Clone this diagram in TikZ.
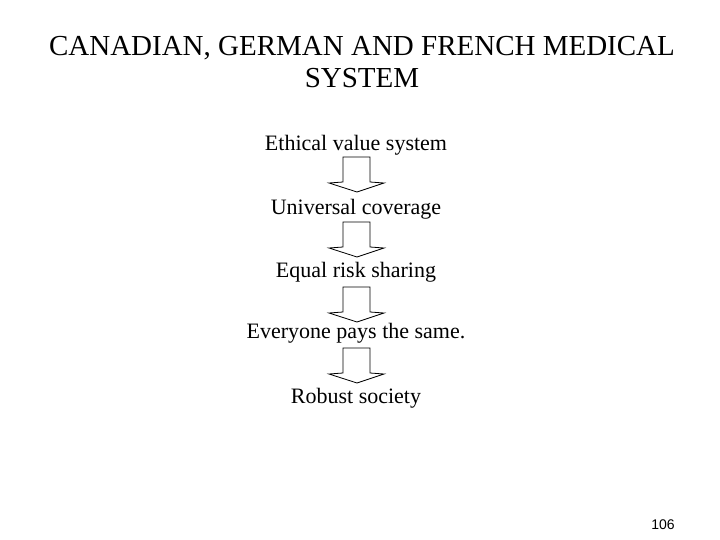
\documentclass[tikz,border=0pt]{standalone}
\usepackage{fontspec}
\setmainfont{Liberation Serif}
\newfontfamily\arialfont{Liberation Sans}
\begin{document}
\begin{tikzpicture}[x=1pt,y=-1pt,
  title/.style={font=\fontsize{29}{34}\selectfont, align=center, inner sep=0pt},
  lbl/.style={font=\fontsize{22}{26}\selectfont, inner sep=0pt},
  blockarrow/.style={draw=black, fill=white, line width=0.8pt, line join=miter}]
\useasboundingbox (0,0) rectangle (720,540);
\node[title] (t1) at (362,48) {CANADIAN, GERMAN AND FRENCH MEDICAL};
\node[title] (t2) at (362,78) {SYSTEM};
\node[lbl] (a) at (356,145) {Ethical value system};
\node[lbl] (b) at (356,209) {Universal coverage};
\node[lbl] (c) at (356,272) {Equal risk sharing};
\node[lbl] (d) at (356,333) {Everyone pays the same.};
\node[lbl] (e) at (356,398) {Robust society};
\node[font=\arialfont\fontsize{14}{16}\selectfont, inner sep=0pt] (n) at (663,525) {106};
\foreach \yt in {157,222,287,348}{
  \draw[blockarrow] (343,\yt) -- (370,\yt) -- (370,\yt+25) -- (384,\yt+26) -- (357,\yt+35) -- (329,\yt+26) -- (343,\yt+25) -- cycle;
}
\end{tikzpicture}
\end{document}
